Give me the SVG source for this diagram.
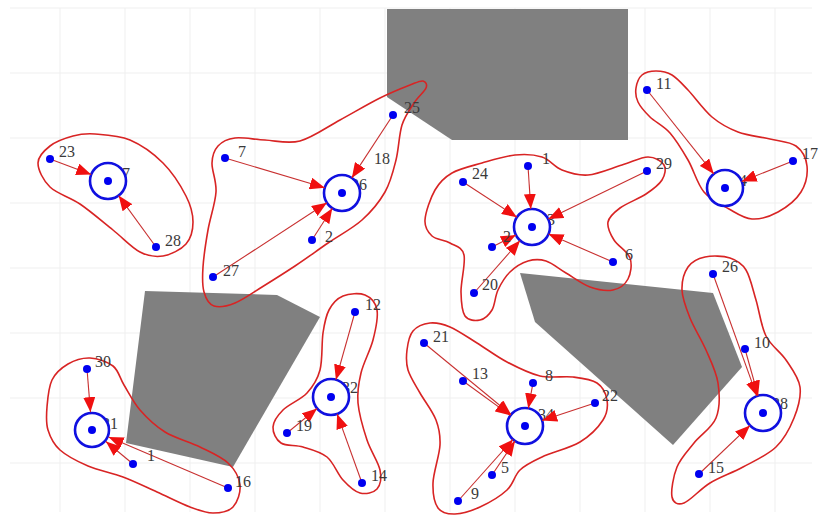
<svg xmlns="http://www.w3.org/2000/svg" width="822" height="518" viewBox="0 0 822 518">
<defs>
<style>
.grid line{stroke:#efefef;stroke-width:1}
.obs{fill:#808080;stroke:none}
.reg{fill:none;stroke:#d82424;stroke-width:1.6}
.con{stroke:#c83030;stroke-width:1.1;fill:none;marker-end:url(#ah)}
.dot{fill:#0000f0}
.ctr{fill:#ffffff;stroke:#1010e0;stroke-width:2.6}
.lbl{font-family:"Liberation Serif","DejaVu Serif",serif;font-size:16px;fill:#3a3a3a}
</style>
<marker id="ah" viewBox="0 0 15 12" refX="15" refY="6" markerWidth="15" markerHeight="12" markerUnits="userSpaceOnUse" orient="auto">
<path d="M0,0 L15,6 L0,12 z" fill="#f01010"/>
</marker>
</defs>
<rect width="822" height="518" fill="#ffffff"/>
<g class="grid">
<line x1="60" y1="8" x2="60" y2="512"/><line x1="125" y1="8" x2="125" y2="512"/><line x1="190" y1="8" x2="190" y2="512"/><line x1="255" y1="8" x2="255" y2="512"/><line x1="320" y1="8" x2="320" y2="512"/><line x1="385" y1="8" x2="385" y2="512"/><line x1="450" y1="8" x2="450" y2="512"/><line x1="515" y1="8" x2="515" y2="512"/><line x1="580" y1="8" x2="580" y2="512"/><line x1="645" y1="8" x2="645" y2="512"/><line x1="710" y1="8" x2="710" y2="512"/><line x1="775" y1="8" x2="775" y2="512"/>
<line x1="10" y1="8" x2="812" y2="8"/><line x1="10" y1="73" x2="812" y2="73"/><line x1="10" y1="138" x2="812" y2="138"/><line x1="10" y1="203" x2="812" y2="203"/><line x1="10" y1="268" x2="812" y2="268"/><line x1="10" y1="333" x2="812" y2="333"/><line x1="10" y1="398" x2="812" y2="398"/><line x1="10" y1="463" x2="812" y2="463"/>
</g>
<g id="obstacles">
<polygon class="obs" points="387,9 628,9 628,140 452,140 387,97"/>
<polygon class="obs" points="145,291 277,295 320,317 233,467 126,443"/>
<polygon class="obs" points="520,273 713,293 742,367 673,445 535,322"/>
</g>
<g id="regions">
<path class="reg" d="M38,163 C38,156.2 44.2,150.5 50,146 S65.5,138 73,136 S85.5,133.3 95,134 S118.7,135.2 130,140 S153.7,153.7 163,163 S181,186.2 186,196 S193,214 193,222 S191,238.3 186,244 S170.7,254.7 163,256 S148.3,256.3 140,252 S123,238 113,230 S90.5,211.2 80,204 S57,193.8 50,187 S38,169.8 38,163 Z"/>
<path class="reg" d="M212,163 C212.3,155.3 214.2,150.2 218,146 S227.2,139 235,138 S254.2,139.5 265,140 S287.5,144.3 300,141 S326.7,127.2 340,120 S368.3,103.8 380,98 S402.8,87.8 410,85 S420.3,80.5 423,81 S427.5,84.3 426,88 S418,96.8 414,103 S405,115.5 402,125 S398.8,148.8 396,160 S390.7,182 385,192 S371.5,211.5 362,220 S339.2,235.3 328,243 S306,258.7 295,266 S272,280.8 262,287 S243,299.8 235,303 S219.2,307.8 214,306 S205.8,298.5 204,292 S202.3,277.3 203,267 S205.8,242.5 208,230 S215.3,203.2 216,192 S211.7,170.7 212,163 Z"/>
<path class="reg" d="M425,220 C425.5,212.3 430.5,197.8 435,190 S444.2,177.5 452,173 S471.5,166 482,163 S505,156 515,155 S534.2,154.5 542,157 S554.3,167 562,170 S578,175.8 588,175 S612,168 622,165 S641,157 648,157 S661.7,161.2 664,165 S665,175.2 662,180 S653,189.3 646,194 S626.3,203.3 620,208 S609,216.7 608,222 S610.3,234 614,240 S627.7,251.5 630,258 S630.8,273.7 628,279 S619.3,288.7 613,290 S597.8,289.8 590,287 S573.3,277.3 566,273 S552.3,263 546,261 S534,259.2 528,261 S515,267.2 510,272 S501,283.7 498,290 S495,305 492,310 S484.5,319 480,320 S468.2,320.7 465,316 S461.2,302.2 461,292 S465.8,263.2 464,255 S455.3,246.2 450,243 S436.2,239.8 432,236 S424.5,227.7 425,220 Z"/>
<path class="reg" d="M636,88 C636.7,83.5 638.7,77.8 642,75 S651,71 656,71 S666.7,71.8 672,75 S681.3,83 688,90 S703.7,110 712,117 S728.3,128.3 738,132 S760.3,136.7 770,139 S789.8,141.5 796,146 S806.2,158.3 807,166 S805.8,184.3 801,192 S786.2,207.5 778,212 S760.2,219.5 752,219 S737,213.5 729,209 S710.8,200.2 704,192 S693.7,169.8 688,160 S676.3,140.2 670,133 S655.3,122.2 650,117 S640.3,106.8 638,102 S635.3,92.5 636,88 Z"/>
<path class="reg" d="M47,407 C47.7,398.7 48.5,387.2 52,380 S61.7,367.7 68,364 S82.5,357.7 90,358 S107.3,361.5 113,366 S119.5,377.7 124,385 S133.2,402.2 140,410 S155,425.8 165,432 S189.5,441.8 200,447 S221.3,456.7 228,463 S239.2,477.7 240,485 S237.5,502.3 233,507 S220.2,513 213,513 S199.3,510.5 190,507 S168.2,497 157,492 S134.5,481.3 123,477 S98.5,470.5 88,466 S66.7,456 60,450 S50.2,437.2 48,430 S46.3,415.3 47,407 Z"/>
<path class="reg" d="M323,333 C324.5,323 325.7,316.2 329,310 S337,298.5 343,296 S359.3,292.7 365,295 S375.7,302.5 377,310 S375.7,329.5 373,340 S363.5,362.5 361,373 S357,391.8 358,403 S363.3,428.8 367,440 S378.3,461.8 380,470 S380.3,485.2 377,489 S365.7,494.5 360,493 S348.5,486 343,480 S333.7,462.5 327,457 S310.7,449.3 303,447 S286,446.3 281,443 S272.7,432.5 273,427 S277.3,415.7 283,410 S300.8,399.7 307,393 S317.3,380 320,370 S321.5,343 323,333 Z"/>
<path class="reg" d="M407,350 C407.8,343.5 409.2,335.5 413,331 S423.8,323.7 430,323 S442.2,323.7 450,327 S467.5,337.2 477,343 S496.5,356.5 507,362 S529,373.5 540,376 S563.5,375.8 573,377 S591.3,379.2 597,383 S606,393.8 607,400 S607.5,413 603,420 S590.2,435.8 580,442 S552,452.3 542,457 S525.8,464.5 520,470 S513.7,483.8 507,490 S488.7,503 480,507 S462,513.8 455,514 S441.7,513.2 438,508 S432.7,493.5 433,483 S439.5,455.5 440,445 S439.3,428.7 436,420 S424.7,401.3 420,393 S410.2,377.2 408,370 S406.2,356.5 407,350 Z"/>
<path class="reg" d="M682,290 C681.7,281.5 684.2,272.5 688,267 S698,258.5 705,257 S723.2,255.8 730,258 S741.7,263 746,270 S752.7,289 756,300 S761,326 766,336 S780.3,351.5 786,360 S798.7,377.3 800,387 S798,408 794,418 S784.5,438.8 776,447 S754,461 743,467 S719.8,477 710,483 S690.3,500.7 684,503 S673.2,503 672,497 S673.3,476 677,467 S687.5,451.2 694,443 S712,428 716,418 S719.7,394.3 718,383 S710.7,360.8 706,350 S694,328 690,318 S682.3,298.5 682,290 Z"/>
</g>
<g id="center-labels">
<text class="lbl" x="114" y="179">27</text>
<text class="lbl" x="351" y="190">26</text>
<text class="lbl" x="547" y="225">3</text>
<text class="lbl" x="739" y="186">4</text>
<text class="lbl" x="102" y="429">31</text>
<text class="lbl" x="342" y="393">32</text>
<text class="lbl" x="538" y="420">34</text>
<text class="lbl" x="772" y="409">38</text>
</g>
<g id="c27"><circle class="ctr" cx="108" cy="181" r="18"/><circle class="dot" cx="108" cy="181" r="4"/></g>
<g id="c26"><circle class="ctr" cx="342" cy="193" r="18"/><circle class="dot" cx="342" cy="193" r="4"/></g>
<g id="c3"><circle class="ctr" cx="532" cy="227" r="18"/><circle class="dot" cx="532" cy="227" r="4"/></g>
<g id="c4"><circle class="ctr" cx="725" cy="188" r="18"/><circle class="dot" cx="725" cy="188" r="4"/></g>
<g id="c31"><circle class="ctr" cx="92" cy="430" r="17"/><circle class="dot" cx="92" cy="430" r="4"/></g>
<g id="c32"><circle class="ctr" cx="331" cy="397" r="18"/><circle class="dot" cx="331" cy="397" r="4"/></g>
<g id="c34"><circle class="ctr" cx="525" cy="426" r="18"/><circle class="dot" cx="525" cy="426" r="4"/></g>
<g id="c38"><circle class="ctr" cx="763" cy="413" r="18"/><circle class="dot" cx="763" cy="413" r="4"/></g>
<g id="connectors">
<line class="con" x1="50" y1="159" x2="91.2" y2="174.6"/>
<line class="con" x1="156" y1="247" x2="118.6" y2="195.6"/>
<line class="con" x1="225" y1="158" x2="324.8" y2="187.8"/>
<line class="con" x1="393" y1="115" x2="351.8" y2="177.9"/>
<line class="con" x1="213" y1="277" x2="326.9" y2="202.8"/>
<line class="con" x1="312" y1="240" x2="332.3" y2="208.2"/>
<line class="con" x1="528" y1="166" x2="530.8" y2="209"/>
<line class="con" x1="463" y1="182" x2="516.9" y2="217.2"/>
<line class="con" x1="647" y1="171" x2="548.2" y2="219.1"/>
<line class="con" x1="613" y1="262" x2="548.5" y2="234.1"/>
<line class="con" x1="492" y1="247" x2="515.9" y2="235"/>
<line class="con" x1="474" y1="293" x2="520.1" y2="240.5"/>
<line class="con" x1="647" y1="90" x2="713.8" y2="173.9"/>
<line class="con" x1="793" y1="161" x2="741.7" y2="181.4"/>
<line class="con" x1="87" y1="369" x2="90.5" y2="412.1"/>
<line class="con" x1="228" y1="488" x2="108.6" y2="437.1"/>
<line class="con" x1="133" y1="464" x2="105.9" y2="441.5"/>
<line class="con" x1="355" y1="312" x2="335.9" y2="379.7"/>
<line class="con" x1="287" y1="433" x2="317.1" y2="408.4"/>
<line class="con" x1="362" y1="483" x2="337.1" y2="413.9"/>
<line class="con" x1="424" y1="343" x2="511.1" y2="414.6"/>
<line class="con" x1="463" y1="381" x2="510.4" y2="415.4"/>
<line class="con" x1="533" y1="383" x2="528.3" y2="408.3"/>
<line class="con" x1="595" y1="403" x2="542.1" y2="420.4"/>
<line class="con" x1="458" y1="501" x2="513" y2="439.4"/>
<line class="con" x1="492" y1="475" x2="515" y2="440.9"/>
<line class="con" x1="713" y1="274" x2="756.9" y2="396.1"/>
<line class="con" x1="745" y1="349" x2="758.1" y2="395.7"/>
<line class="con" x1="699" y1="474" x2="750" y2="425.4"/>
</g>
<g id="n23"><circle class="dot" cx="50" cy="159" r="4"/><text class="lbl" x="59" y="157">23</text></g>
<g id="n28"><circle class="dot" cx="156" cy="247" r="4"/><text class="lbl" x="165" y="246">28</text></g>
<g id="n7"><circle class="dot" cx="225" cy="158" r="4"/><text class="lbl" x="238" y="157">7</text></g>
<g id="n25"><circle class="dot" cx="393" cy="115" r="4"/><text class="lbl" x="404" y="113">25</text></g>
<g id="n18"><text class="lbl" x="374" y="164">18</text></g>
<g id="n2a"><circle class="dot" cx="312" cy="240" r="4"/><text class="lbl" x="325" y="242">2</text></g>
<g id="n27"><circle class="dot" cx="213" cy="277" r="4"/><text class="lbl" x="223" y="276">27</text></g>
<g id="n1a"><circle class="dot" cx="528" cy="166" r="4"/><text class="lbl" x="542" y="164">1</text></g>
<g id="n24"><circle class="dot" cx="463" cy="182" r="4"/><text class="lbl" x="472" y="179">24</text></g>
<g id="n29"><circle class="dot" cx="647" cy="171" r="4"/><text class="lbl" x="656" y="169">29</text></g>
<g id="n6"><circle class="dot" cx="613" cy="262" r="4"/><text class="lbl" x="625" y="260">6</text></g>
<g id="n20"><circle class="dot" cx="474" cy="293" r="4"/><text class="lbl" x="482" y="290">20</text></g>
<g id="n2b"><circle class="dot" cx="492" cy="247" r="4"/><text class="lbl" x="503" y="242">2</text></g>
<g id="n11"><circle class="dot" cx="647" cy="90" r="4"/><text class="lbl" x="656" y="89">11</text></g>
<g id="n17"><circle class="dot" cx="793" cy="161" r="4"/><text class="lbl" x="802" y="159">17</text></g>
<g id="n30"><circle class="dot" cx="87" cy="369" r="4"/><text class="lbl" x="95" y="367">30</text></g>
<g id="n1b"><circle class="dot" cx="133" cy="464" r="4"/><text class="lbl" x="147" y="461">1</text></g>
<g id="n16"><circle class="dot" cx="228" cy="488" r="4"/><text class="lbl" x="235" y="487">16</text></g>
<g id="n12"><circle class="dot" cx="355" cy="312" r="4"/><text class="lbl" x="365" y="310">12</text></g>
<g id="n19"><circle class="dot" cx="287" cy="433" r="4"/><text class="lbl" x="296" y="431">19</text></g>
<g id="n14"><circle class="dot" cx="362" cy="483" r="4"/><text class="lbl" x="371" y="481">14</text></g>
<g id="n21"><circle class="dot" cx="424" cy="343" r="4"/><text class="lbl" x="433" y="342">21</text></g>
<g id="n13"><circle class="dot" cx="463" cy="381" r="4"/><text class="lbl" x="472" y="379">13</text></g>
<g id="n8"><circle class="dot" cx="533" cy="383" r="4"/><text class="lbl" x="545" y="381">8</text></g>
<g id="n22"><circle class="dot" cx="595" cy="403" r="4"/><text class="lbl" x="602" y="401">22</text></g>
<g id="n5"><circle class="dot" cx="492" cy="475" r="4"/><text class="lbl" x="501" y="473">5</text></g>
<g id="n9"><circle class="dot" cx="458" cy="501" r="4"/><text class="lbl" x="471" y="499">9</text></g>
<g id="n26"><circle class="dot" cx="713" cy="274" r="4"/><text class="lbl" x="722" y="272">26</text></g>
<g id="n10"><circle class="dot" cx="745" cy="349" r="4"/><text class="lbl" x="754" y="348">10</text></g>
<g id="n15"><circle class="dot" cx="699" cy="474" r="4"/><text class="lbl" x="708" y="473">15</text></g>
</svg>
